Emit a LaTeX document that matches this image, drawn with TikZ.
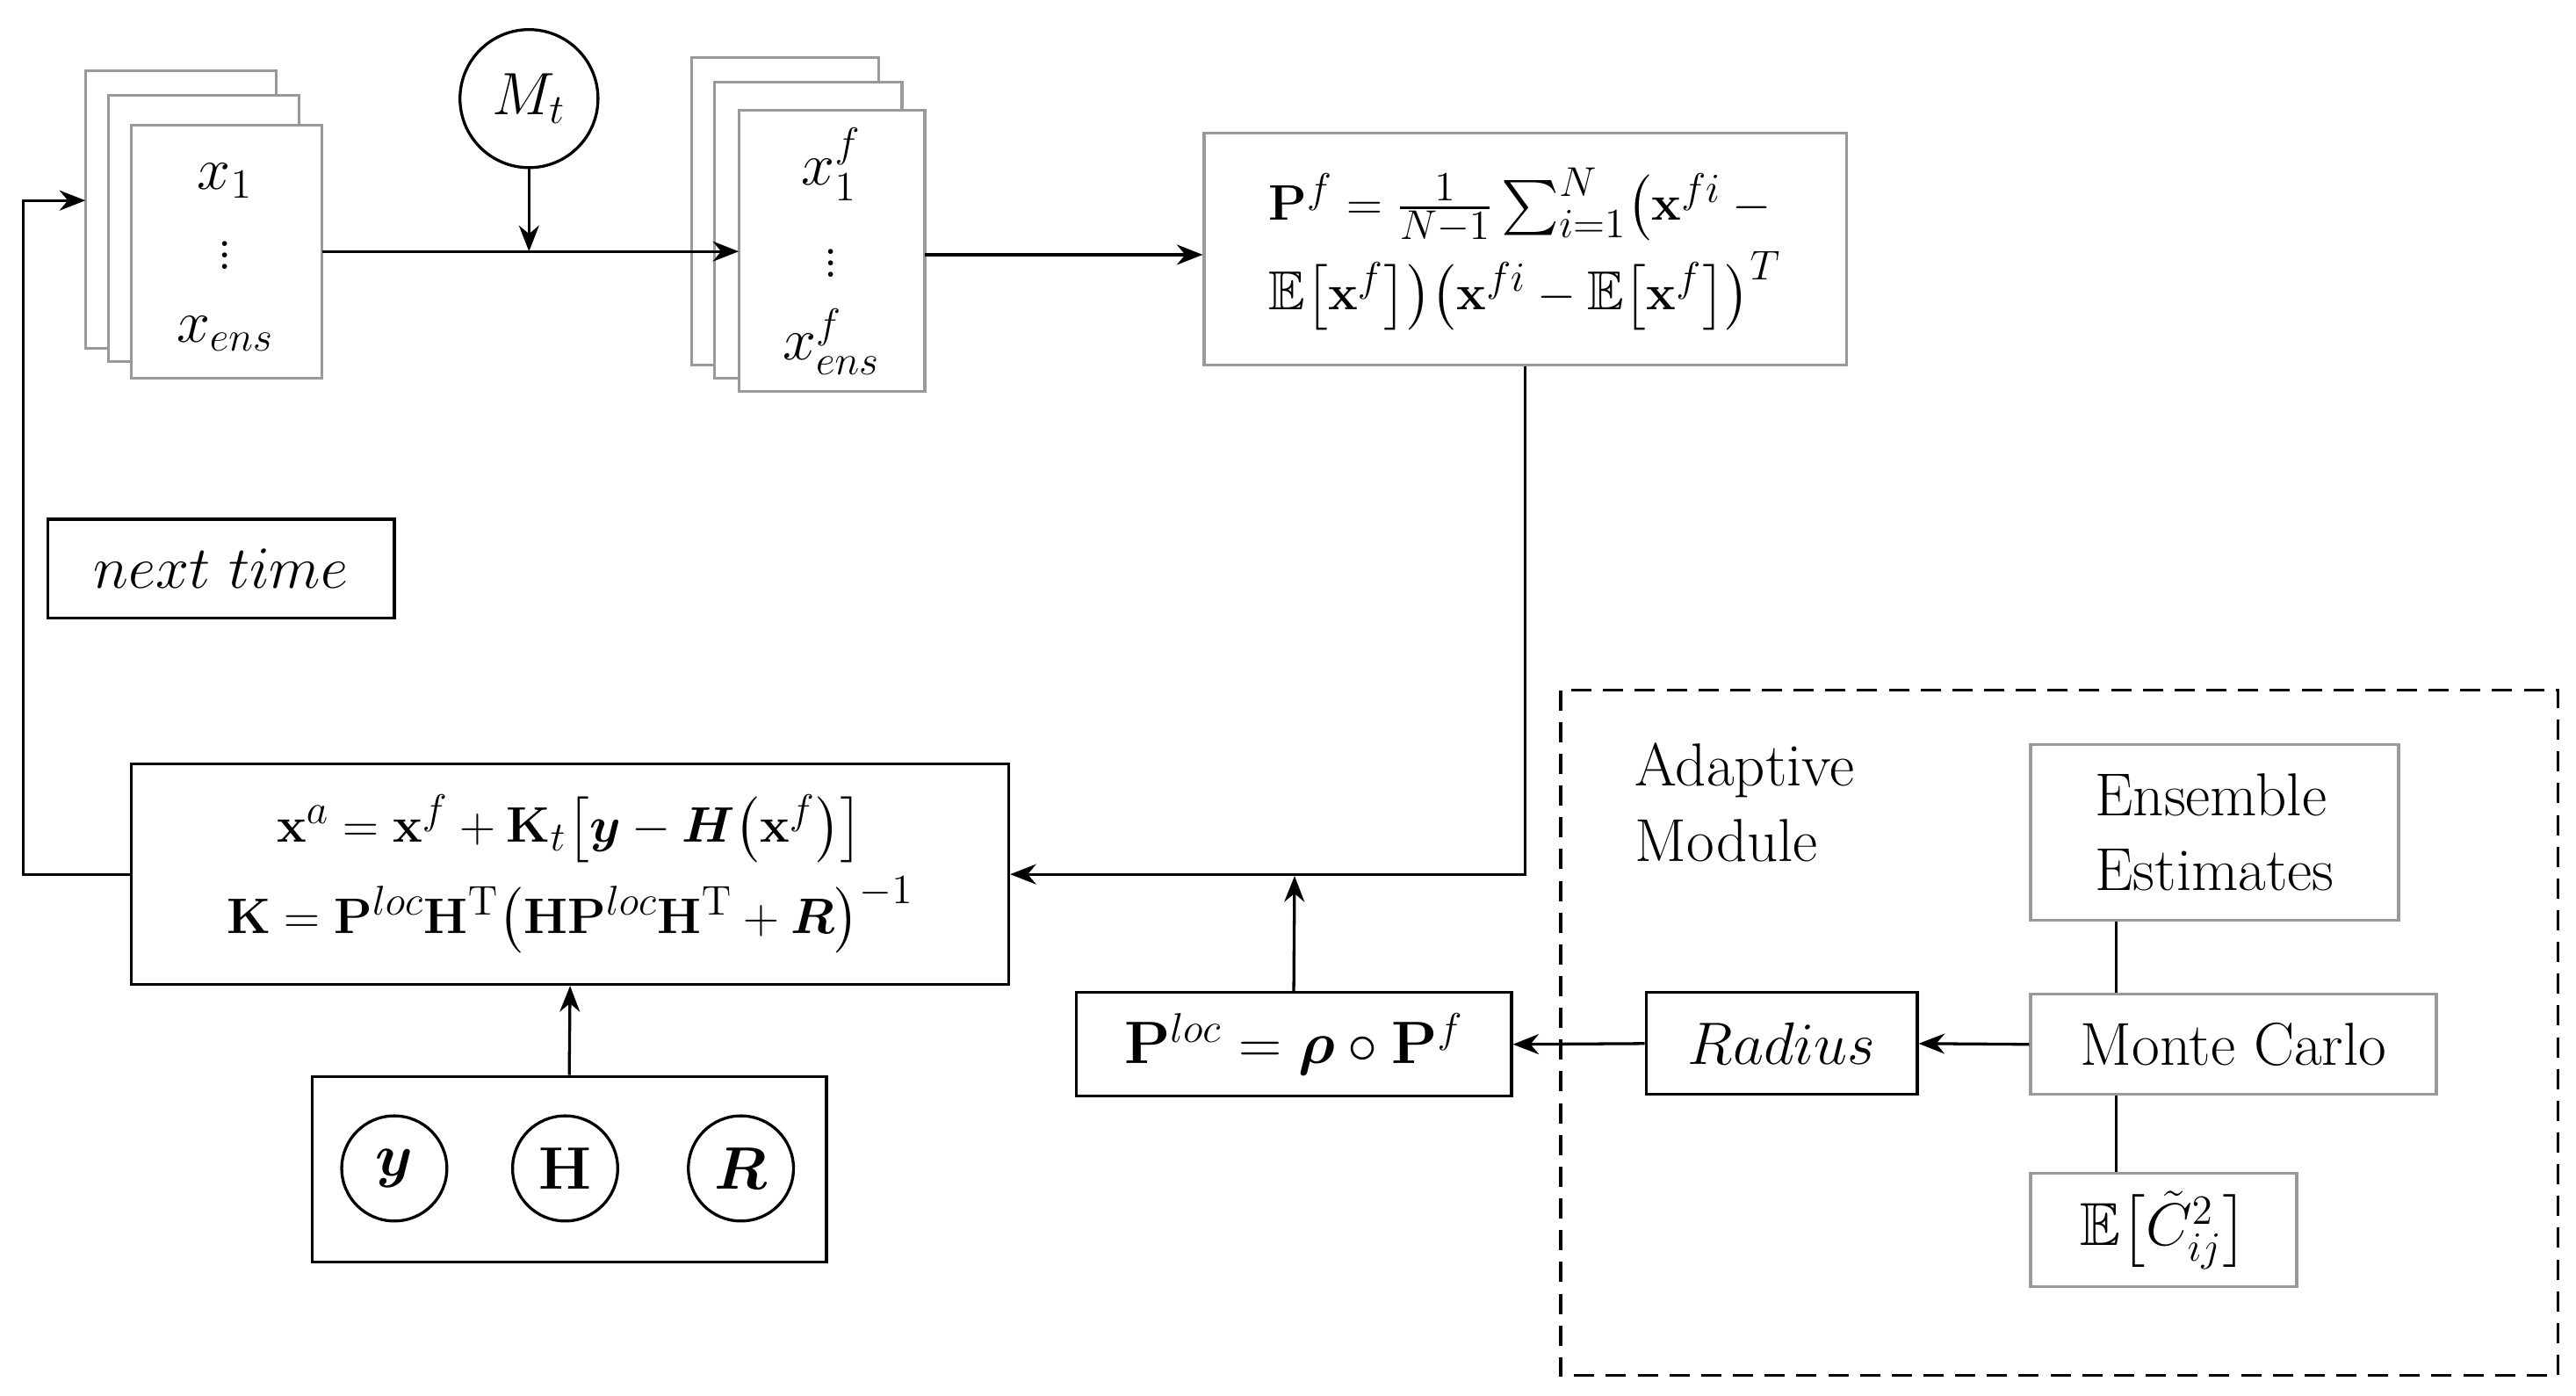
\documentclass[tikz,border=0pt]{standalone}
\usepackage{amsmath,amssymb,bm}
\usetikzlibrary{arrows.meta}
\begin{document}
\fontsize{21}{26}\selectfont
\begin{tikzpicture}[x=0.02cm,y=-0.02cm,
  box/.style={draw,line width=1pt,inner sep=0pt},
  gbox/.style={draw=gray!80,line width=1pt,fill=white,inner sep=0pt},
  circ/.style={draw,circle,line width=1pt,inner sep=0pt},
  arr/.style={-{Stealth[length=9pt,width=7pt]},line width=1pt},
  ln/.style={line width=1pt}]
\useasboundingbox (0,0) rectangle (1568,849);
% first stack
\draw[gbox] (52,43) rectangle (168,212);
\draw[gbox] (66,58) rectangle (182,220);
\draw[gbox] (80,76) rectangle (196,230);
\node[draw=none,minimum width=116*0.02cm,minimum height=154*0.02cm] (s1) at (138,153) {};
\node at (137,110) {$x_1$};
\node[inner sep=0pt] at (137,150) {$\vdots$};
\node at (137,203) {$x_{ens}$};
% Mt
\node[circ,minimum size=84*0.02cm] (mt) at (322,60) {$M_t$};
\coordinate (j) at (322,153);
% second stack
\draw[gbox] (421,35) rectangle (535,222);
\draw[gbox] (435,50) rectangle (549,230);
\draw[gbox] (450,67) rectangle (563,238);
\node[draw=none,minimum width=113*0.02cm,minimum height=171*0.02cm] (s2) at (506.5,152.5) {};
\node at (506,100) {$x_1^f$};
\node[inner sep=0pt] at (506,155) {$\vdots$};
\node at (506,208) {$x_{ens}^f$};
% Pf
\node[gbox,minimum width=391*0.02cm,minimum height=141*0.02cm,align=left,font=\fontsize{19}{24}\selectfont] (pf) at (928.5,151.5)
 {$\mathbf{P}^f=\frac{1}{N-1}\sum_{i=1}^{N}\bigl(\mathbf{x}^{fi}-{}$\\[2pt]
  $\mathbb{E}\bigl[\mathbf{x}^f\bigr]\bigr)\bigl(\mathbf{x}^{fi}-\mathbb{E}\bigl[\mathbf{x}^f\bigr]\bigr)^T$};
\draw[ln] (s1.east|-j) -- (j);
\draw[arr] (j) -- (s2.west|-j);
\draw[arr] (mt) -- (j);
\draw[arr] (563,155) -- (pf.west|-0,155);
% Xa
\node[box,minimum width=534*0.02cm,minimum height=134*0.02cm,align=center,font=\fontsize{19}{24}\selectfont] (xa) at (347,532)
 {$\mathbf{x}^a=\mathbf{x}^f+\mathbf{K}_t\bigl[\bm{y}-\bm{H}\bigl(\mathbf{x}^f\bigr)\bigr]$\\[4pt]
  $\mathbf{K}=\mathbf{P}^{loc}\mathbf{H}^{\mathrm{T}}\bigl(\mathbf{H}\mathbf{P}^{loc}\mathbf{H}^{\mathrm{T}}+\bm{R}\bigr)^{-1}$};
\draw[arr] (pf.south) |- (xa.east);
\coordinate (c1) at (14,532);
\coordinate (c2) at (14,122);
\draw[arr] (xa.west) -- (c1) -- (c2) -- (52,122);
\node[box,minimum width=211*0.02cm,minimum height=60*0.02cm] (nt) at (134.5,346) {$next\ time$};
% yHR
\node[box,minimum width=313*0.02cm,minimum height=113*0.02cm] (yhr) at (346.5,711.5) {};
\node[circ,minimum size=64*0.02cm] (y) at (240,711) {$\bm{y}$};
\node[circ,minimum size=64*0.02cm] (h) at (344,711) {$\mathbf{H}$};
\node[circ,minimum size=64*0.02cm] (r) at (451,711) {$\bm{R}$};
\draw[arr] (yhr.north) -- (xa.south);
% Ploc
\node[box,minimum width=265*0.02cm,minimum height=63*0.02cm] (pl) at (787.5,635.5) {$\mathbf{P}^{loc}=\bm{\rho}\circ\mathbf{P}^f$};
\draw[arr] (pl.north) -- (788,533);
% adaptive
\draw[line width=1pt,dash pattern=on 7pt off 4pt] (950,420) rectangle (1557,837);
\node[align=left,anchor=north west,inner sep=0pt] (am) at (995,452) {Adaptive\\Module};
\node[gbox,minimum width=224*0.02cm,minimum height=107*0.02cm,align=left] (ee) at (1348,506.5) {Ensemble\\Estimates};
\node[gbox,minimum width=247*0.02cm,minimum height=61*0.02cm] (mc) at (1359.5,635.5) {Monte Carlo};
\node[gbox,minimum width=162*0.02cm,minimum height=69*0.02cm] (ec) at (1317,748.5) {$\mathbb{E}\bigl[\tilde{C}_{ij}^2\bigr]$};
\node[box,minimum width=165*0.02cm,minimum height=62*0.02cm] (rad) at (1084.5,635) {$Radius$};
\draw[ln] (ee.south-|1288,0) -- (mc.north-|1288,0);
\draw[ln] (mc.south-|1288,0) -- (ec.north-|1288,0);
\draw[arr] (mc.west) -- (rad.east);
\draw[arr] (rad.west) -- (pl.east);
\end{tikzpicture}
\end{document}
